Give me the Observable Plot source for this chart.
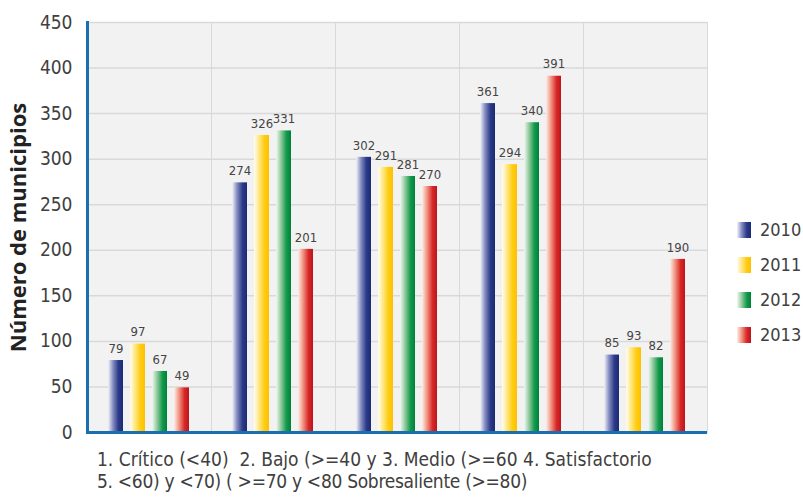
<!DOCTYPE html>
<html>
<head>
<meta charset="utf-8">
<script src="https://cdn.jsdelivr.net/npm/d3@7"></script>
<script src="https://cdn.jsdelivr.net/npm/@observablehq/plot@0.6"></script>
<style>
  html, body { margin: 0; padding: 0; background: #fff; }
  #wrap { position: relative; width: 803px; height: 498px; overflow: hidden;
          font-family: "DejaVu Sans Condensed", "Liberation Sans", sans-serif; color: #404040; }
  #chart svg { display: block; }
  g[aria-label="y-axis label"] text { font-family: "Open Sans", "Liberation Sans", sans-serif; font-weight: bold; font-size: 22px; fill: #222; }
  #xlabels { position: absolute; left: 97px; top: 448px; font-size: 19px; line-height: 22px; white-space: pre; color: #404040; }
  #xlabels div:nth-child(2) { letter-spacing: -0.3px; }
  #legend { position: absolute; left: 737px; top: 212px; }
  .item { display: flex; align-items: center; height: 35px; font-size: 18px; color: #404040; }
  .sw { width: 14px; height: 16px; margin-right: 9px; }
</style>
</head>
<body>
<div id="wrap">
  <div id="chart"></div>
  <div id="xlabels"></div>
  <div id="legend"></div>
</div>
<script>
const categories = ["1. Crítico (<40)", "2. Bajo (>=40 y <60)", "3. Medio (>=60 y <70)", "4. Satisfactorio (>=70 y <80)", "5. Sobresaliente (>=80)"];
const years = ["2010", "2011", "2012", "2013"];
const values2010 = [79, 274, 302, 361, 85];
const values2011 = [97, 326, 291, 294, 93];
const values2012 = [67, 331, 281, 340, 82];
const values2013 = [49, 201, 270, 391, 190];
const yTicks = [0, 50, 100, 150, 200, 250, 300, 350, 400, 450];
const xLabelLines = [
  "1. Crítico (<40)  2. Bajo (>=40 y 3. Medio (>=60 4. Satisfactorio",
  "5. <60) y <70) ( >=70 y <80 Sobresaliente (>=80)"
];
const yLabel = "Número de municipios";

const gradients = {
  "2010": ["#f4f4fa", "#8088bd", "#2a3a8a", "#1c2a72"],
  "2011": ["#fffdf0", "#ffe680", "#ffcc10", "#ffc000"],
  "2012": ["#f2f9f2", "#8cc79a", "#119a4a", "#00803a"],
  "2013": ["#fdeee8", "#f0907c", "#d8282a", "#be141b"]
};

const series = [values2010, values2011, values2012, values2013];
const rows = [];
years.forEach((yr, j) => categories.forEach((c, i) => rows.push({category: c, year: yr, value: series[j][i]})));

const font = '"DejaVu Sans Condensed", "Liberation Sans", sans-serif';
const blue = "#1a6fad";

const marks = [
  Plot.frame({fill: "#f2f2f2", stroke: "#d9d9d9"}),
  Plot.gridY(yTicks, {stroke: "#d9d9d9", strokeOpacity: 1, strokeWidth: 1.5}),
  ...years.map(yr => Plot.barY(rows.filter(d => d.year === yr), {
    fx: "category", x: "year", y: "value", fill: `url(#grad${yr})`
  })),
  Plot.text(rows, {fx: "category", x: "year", y: "value", text: d => String(d.value), dy: -12,
    fontSize: 13, fill: "#444", fontFamily: font}),
  Plot.ruleY([0], {stroke: blue, strokeWidth: 3}),
  Plot.frame({anchor: "left", stroke: blue, strokeWidth: 3, facetAnchor: "left"}),
  Plot.axisY(yTicks, {tickSize: 0, tickPadding: 15, fontSize: 19, fill: "#404040", fontFamily: font,
    label: yLabel, labelAnchor: "center", labelArrow: "none", labelOffset: 77})
];

const svg = Plot.plot({
  width: 803,
  height: 446,
  marginLeft: 85,
  marginRight: 95,
  marginTop: 22,
  marginBottom: 14,
  style: {fontFamily: font, background: "transparent"},
  fx: {domain: categories, padding: 0, axis: null},
  x: {domain: years, paddingInner: 0.3, paddingOuter: 0.9, axis: null},
  y: {domain: [0, 450], axis: null},
  marks
});

const defs = d3.select(svg).insert("defs", ":first-child");
years.forEach(yr => {
  const g = defs.append("linearGradient").attr("id", `grad${yr}`)
    .attr("x1", "0").attr("x2", "1").attr("y1", "0").attr("y2", "0");
  const st = gradients[yr];
  [0, 0.35, 0.7, 1].forEach((o, k) => g.append("stop").attr("offset", o).attr("stop-color", st[k]));
});

document.getElementById("chart").appendChild(svg);
const xl = d3.select("#xlabels");
xLabelLines.forEach(line => xl.append("div").text(line));

const legend = d3.select("#legend");
years.forEach(yr => {
  const it = legend.append("div").attr("class", "item");
  const st = gradients[yr];
  it.append("div").attr("class", "sw")
    .style("background", `linear-gradient(to right, ${st[0]} 0%, ${st[1]} 35%, ${st[2]} 70%, ${st[3]} 100%)`);
  it.append("span").text(yr);
});
</script>
</body>
</html>
